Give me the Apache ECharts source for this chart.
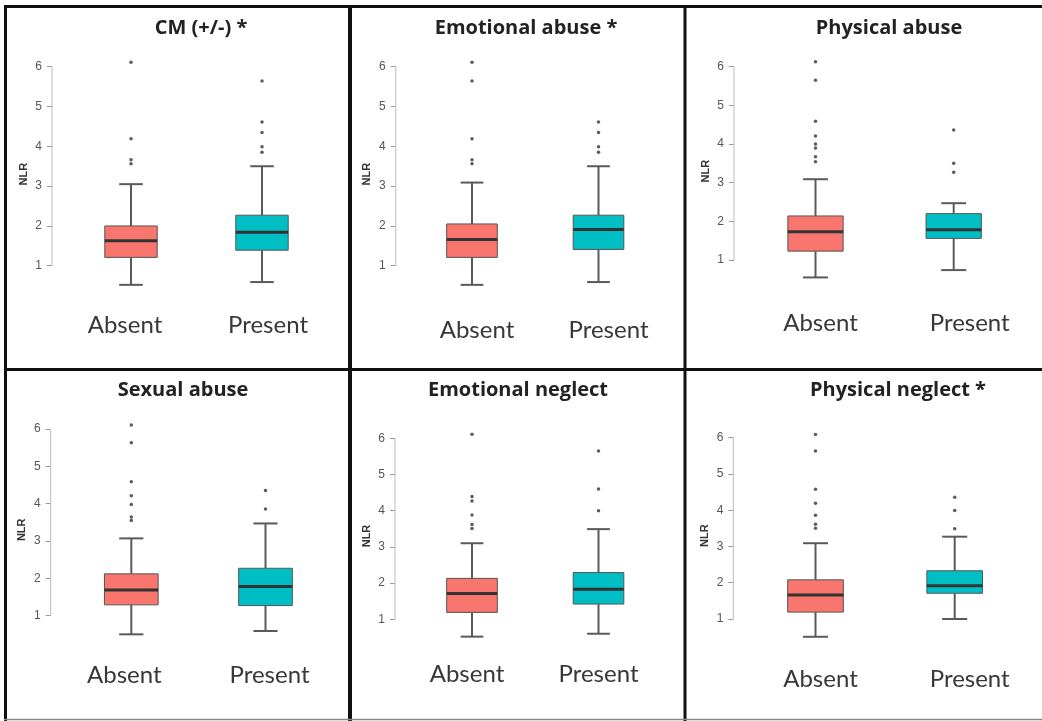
<!DOCTYPE html>
<html>
<head>
<meta charset="utf-8">
<script src="https://cdn.jsdelivr.net/npm/echarts@6/dist/echarts.min.js"></script>
<style>
html,body{margin:0;padding:0;background:#fff;}
#chart{width:1042px;height:721px;}
</style>
</head>
<body>
<div id="chart"></div>
<script>
// ---------------- DATA ----------------
const categories = ['Absent', 'Present'];
const yTicks = [1, 2, 3, 4, 5, 6];
const panelTitles = ['CM (+/-) *', 'Emotional abuse *', 'Physical abuse',
                     'Sexual abuse', 'Emotional neglect', 'Physical neglect *'];

// box stats: [lower whisker, Q1, median, Q3, upper whisker]
const cmAbsentBox  = [0.52, 1.21, 1.63, 2.00, 3.05];
const cmPresentBox = [0.59, 1.39, 1.84, 2.27, 3.50];
const cmAbsentOut  = [6.11, 4.19, 3.66, 3.56];
const cmPresentOut = [5.64, 4.61, 4.35, 3.99, 3.85];

const eaAbsentBox  = [0.52, 1.21, 1.66, 2.05, 3.09];
const eaPresentBox = [0.59, 1.41, 1.91, 2.27, 3.50];
const eaAbsentOut  = [6.11, 5.64, 4.19, 3.66, 3.56];
const eaPresentOut = [4.61, 4.35, 3.99, 3.85];

const paAbsentBox  = [0.55, 1.23, 1.73, 2.14, 3.09];
const paPresentBox = [0.74, 1.56, 1.78, 2.20, 2.47];
const paAbsentOut  = [6.13, 5.65, 4.59, 4.21, 4.00, 3.90, 3.67, 3.54];
const paPresentOut = [4.36, 3.50, 3.27];

const saAbsentBox  = [0.50, 1.29, 1.69, 2.12, 3.07];
const saPresentBox = [0.59, 1.27, 1.78, 2.27, 3.47];
const saAbsentOut  = [6.11, 5.63, 4.59, 4.21, 3.98, 3.64, 3.55];
const saPresentOut = [4.35, 3.86];

const enAbsentBox  = [0.52, 1.19, 1.71, 2.13, 3.10];
const enPresentBox = [0.60, 1.42, 1.83, 2.29, 3.49];
const enAbsentOut  = [6.11, 4.39, 4.27, 3.88, 3.62, 3.51];
const enPresentOut = [5.65, 4.60, 4.00];

const pnAbsentBox  = [0.51, 1.19, 1.66, 2.08, 3.09];
const pnPresentBox = [1.00, 1.71, 1.92, 2.33, 3.27];
const pnAbsentOut  = [6.09, 5.63, 4.58, 4.19, 3.86, 3.61, 3.50];
const pnPresentOut = [4.36, 3.99, 3.49];

const panelBoxes = [
  [cmAbsentBox, cmPresentBox], [eaAbsentBox, eaPresentBox], [paAbsentBox, paPresentBox],
  [saAbsentBox, saPresentBox], [enAbsentBox, enPresentBox], [pnAbsentBox, pnPresentBox]
];
const panelOutliers = [
  [cmAbsentOut, cmPresentOut], [eaAbsentOut, eaPresentOut], [paAbsentOut, paPresentOut],
  [saAbsentOut, saPresentOut], [enAbsentOut, enPresentOut], [pnAbsentOut, pnPresentOut]
];

// ---------------- LAYOUT / STYLE ----------------
const layouts = [
  {left: 65.5,  width: 262,   top: 54.8,  height: 238.8, offset: 13.5, labelMargin: 19, title: [201, 18],  shift: [-6, 6]},
  {left: 408.75,width: 253,   top: 54.8,  height: 238.8, offset: 13,   labelMargin: 24, title: [526, 18],  shift: [5, 10]},
  {left: 746.4, width: 276.4, top: 55.1,  height: 232,   offset: 12.4, labelMargin: 23, title: [889, 18],  shift: [5, 16]},
  {left: 64.2,  width: 268.4, top: 417.8, height: 224,   offset: 13.5, labelMargin: 20, title: [183, 380], shift: [-7, 4]},
  {left: 408.75,width: 253,   top: 427.4, height: 217.2, offset: 13.75,labelMargin: 17, title: [518, 380], shift: [-5, 0]},
  {left: 745.9, width: 278.4, top: 426.8, height: 217.6, offset: 12.6, labelMargin: 22, title: [898, 380], shift: [5, 15]}
];
const boxColors = ['#F8766D', '#00BFC4'];
const Y_MIN = 0.3, Y_MAX = 6.3;

function makeRenderer(offset) {
  return function (params, api) {
    const x = api.value(0);
    const pMin = api.coord([x, api.value(1)]);
    const pQ1 = api.coord([x, api.value(2)]);
    const pMed = api.coord([x, api.value(3)]);
    const pQ3 = api.coord([x, api.value(4)]);
    const pMax = api.coord([x, api.value(5)]);
    const band = api.size([1, 0])[0];
    const hw = band * 0.2;
    const cw = hw * 0.45;
    const cx = pMed[0];
    const color = api.visual('color');
    const wl = {stroke: '#5a5a5a', lineWidth: 2};
    const children = [
      {type: 'line', shape: {x1: cx, y1: pQ3[1], x2: cx, y2: pMax[1]}, style: wl},
      {type: 'line', shape: {x1: cx, y1: pQ1[1], x2: cx, y2: pMin[1]}, style: wl},
      {type: 'line', shape: {x1: cx - cw, y1: pMax[1], x2: cx + cw, y2: pMax[1]}, style: wl},
      {type: 'line', shape: {x1: cx - cw, y1: pMin[1], x2: cx + cw, y2: pMin[1]}, style: wl},
      {type: 'rect', shape: {x: cx - hw, y: pQ3[1], width: hw * 2, height: pQ1[1] - pQ3[1]},
        style: {fill: color, stroke: '#555', lineWidth: 1}},
      {type: 'line', shape: {x1: cx - hw, y1: pMed[1], x2: cx + hw, y2: pMed[1]},
        style: {stroke: '#333', lineWidth: 3}}
    ];
    if (params.dataIndex === 0) {
      const axX = params.coordSys.x - offset;
      const yA = api.coord([0, yTicks[0]])[1];
      const yB = api.coord([0, yTicks[yTicks.length - 1]])[1];
      children.push({type: 'line', shape: {x1: axX, y1: yA, x2: axX, y2: yB},
        style: {stroke: '#bbb', lineWidth: 1}});
    }
    return {type: 'group', children: children};
  };
}

const grid = [], xAxis = [], yAxis = [], series = [], title = [];
layouts.forEach((L, i) => {
  grid.push({left: L.left, top: L.top, width: L.width, height: L.height});
  const rich = {};
  L.shift.forEach((dx, k) => {
    rich['s' + k] = {
      fontSize: 24, fontFamily: 'Lato', color: '#383838', lineHeight: 26,
      padding: dx >= 0 ? [0, 0, 0, 2 * dx] : [0, -2 * dx, 0, 0]
    };
  });
  xAxis.push({
    type: 'category', gridIndex: i, data: categories, boundaryGap: true,
    axisLine: {show: false}, axisTick: {show: false}, splitLine: {show: false},
    axisLabel: {
      margin: L.labelMargin, interval: 0,
      formatter: (v, idx) => '{s' + idx + '|' + v + '}',
      rich: rich
    }
  });
  yAxis.push({
    type: 'value', gridIndex: i, min: Y_MIN, max: Y_MAX, offset: L.offset,
    name: 'NLR', nameLocation: 'middle', nameGap: 23,
    nameTextStyle: {fontSize: 11, fontWeight: 'bold', color: '#333', fontFamily: 'Liberation Sans'},
    axisLine: {show: false},
    splitLine: {show: false},
    axisTick: {show: true, length: 5, customValues: yTicks, lineStyle: {color: '#999', width: 1}},
    axisLabel: {customValues: yTicks, margin: 10, fontSize: 12, color: '#555', fontFamily: 'Liberation Sans'}
  });
  const boxData = panelBoxes[i].map((b, k) => ({
    value: [k].concat(b),
    itemStyle: {color: boxColors[k]}
  }));
  series.push({
    type: 'custom', xAxisIndex: i, yAxisIndex: i,
    renderItem: makeRenderer(L.offset),
    encode: {x: 0, y: [1, 2, 3, 4, 5]},
    data: boxData, z: 2
  });
  const outData = [];
  panelOutliers[i].forEach((arr, k) => arr.forEach(v => outData.push([k, v])));
  series.push({
    type: 'scatter', xAxisIndex: i, yAxisIndex: i, data: outData,
    symbol: 'circle', symbolSize: 3.5, itemStyle: {color: '#333'}, z: 3
  });
  title.push({
    text: panelTitles[i], left: L.title[0], top: L.title[1], textAlign: 'center', padding: 0,
    textStyle: {fontSize: 20, fontWeight: 'bold', fontFamily: 'Open Sans', color: '#222'}
  });
});

const frame = [
  {x1: 5.5, y1: 5, x2: 5.5, y2: 721, w: 3, c: '#111'},
  {x1: 4, y1: 6.5, x2: 1042, y2: 6.5, w: 3, c: '#111'},
  {x1: 350, y1: 5, x2: 350, y2: 721, w: 4, c: '#111'},
  {x1: 685, y1: 5, x2: 685, y2: 721, w: 3, c: '#111'},
  {x1: 4, y1: 369.5, x2: 1042, y2: 369.5, w: 3, c: '#111'},
  {x1: 4, y1: 719.5, x2: 1042, y2: 719.5, w: 1.5, c: '#888'}
];
const graphic = frame.map(f => ({
  type: 'line', silent: true, z: 10,
  shape: {x1: f.x1, y1: f.y1, x2: f.x2, y2: f.y2},
  style: {stroke: f.c, lineWidth: f.w}
}));

const chart = echarts.init(document.getElementById('chart'), null, {renderer: 'canvas'});
chart.setOption({
  backgroundColor: '#fff',
  animation: false,
  title: title,
  grid: grid,
  xAxis: xAxis,
  yAxis: yAxis,
  series: series,
  graphic: graphic
});
</script>
</body>
</html>
